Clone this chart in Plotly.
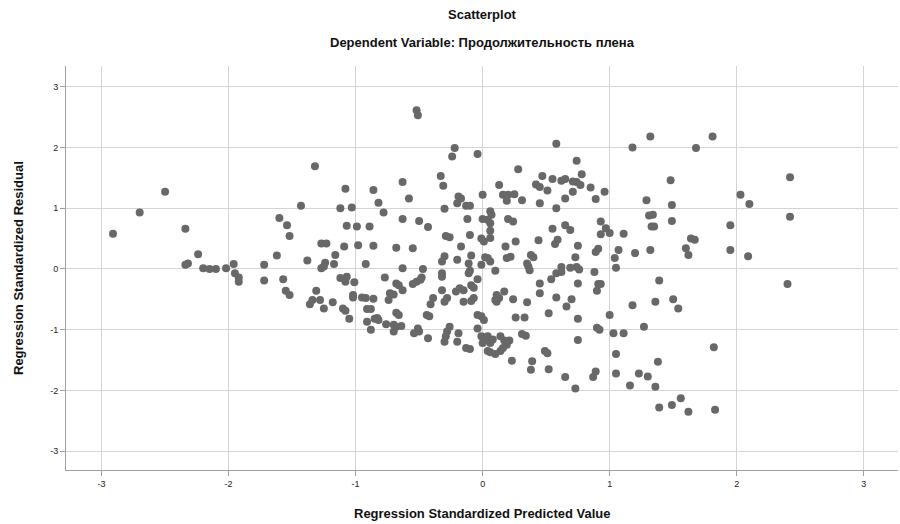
import plotly.graph_objects as go

# Regression standardized predicted values (x) and standardized residuals (y)
pred = [
    -2.91, -2.70, -2.50, -2.34, -2.24, -2.34, -2.32, -2.20, -2.15, -2.10, -2.02, -1.96, -1.95, -1.92, -1.92,
    -1.32, -1.08, -0.86, -1.43, -1.12, -1.03, -1.60, -1.54, -1.52, -1.07, -0.99, -0.89, -1.27, -1.23, -1.09,
    -0.98, -0.86, -1.62, -1.16, -1.72, -1.38, -1.24, -1.25, -1.27, -1.17, -0.92,
    -1.72, -1.57, -1.55, -1.52, -1.31, -1.34, -1.28, -1.36, -1.25, -1.18, -1.12, -1.07, -1.08, -1.01, -1.10,
    -1.08, -1.05, -1.02, -1.02, -0.95, -0.92, -0.86, -0.91, -0.88, -0.91, -0.88, -0.85,
    -0.52, -0.51, -0.22, -0.24, -0.04, -0.33, -0.31, -0.63, -0.58, -0.82, -0.78, -0.19, -0.17, -0.20, -0.13,
    -0.10, 0.00, -0.30, 0.06, -0.63, -0.50, -0.43, -0.12, 0.00, 0.04, 0.06, 0.06, 0.06, -0.29, -0.26, -0.10,
    -0.01, 0.01, -0.68, -0.55, -0.17, -0.30, -0.32, -0.20, -0.09, -0.11, -0.01, 0.02, 0.04, 0.06, -0.63, -0.47,
    -0.48, -0.49, -0.55, -0.52, -0.77, -0.68, -0.66, -0.63, -0.73, -0.70, -0.74, -0.83, -0.82, -0.68, -0.66,
    -0.76, -0.70, -0.68, -0.64, -0.70, -0.32, -0.32, -0.32, -0.39, -0.41, -0.28, -0.30, -0.21, -0.18, -0.15,
    -0.15, -0.09, -0.07, -0.10, -0.11, -0.04, -0.07, -0.09, -0.44, -0.42, -0.51, -0.50, -0.54, -0.43, -0.26,
    -0.28, -0.29, -0.30, -0.19, -0.20, -0.13, -0.10, -0.04, -0.04, -0.01, 0.01, -0.01, 0.02, 0.00, 0.04, 0.06, 0.04,
    0.58, 0.74, 0.28, 0.78, 0.47, 0.55, 0.42, 0.45, 0.51, 0.62, 0.65, 0.71, 0.74, 0.77, 0.85, 0.13, 0.16, 0.20,
    0.25, 0.19, 0.31, 0.71, 0.96, 0.89, 0.65, 0.45, 0.58, 0.07, 0.20, 0.24, 0.55, 0.65, 0.69, 0.93, 0.97, 1.00,
    0.93, 0.44, 0.26, 0.59, 0.57, 0.75, 0.18, 0.91, 0.89, 0.22, 0.19, 0.38, 0.40, 0.73, 0.35, 0.36, 0.62, 0.69,
    0.74, 1.04,
    0.10, 0.37, 0.58, 0.62, 0.76, 0.54, 0.45, 0.45, 0.75, 0.88, 0.91, 0.93, 0.90, 0.11, 0.10, 0.13, 0.11, 0.17,
    0.24, 0.35, 0.58, 0.70, 0.66, 0.52, 0.26, 0.33, 0.75, 1.00, 0.90, 0.92, 0.08, 0.14, 0.17, 0.21, 0.19, 0.16,
    0.14, 0.10, 0.06, 0.31, 0.34, 0.75, 0.49, 0.51, 0.23, 0.39, 0.38, 0.52, 0.65, 0.89, 0.87, 0.73,
    1.32, 1.81, 1.18, 1.68, 1.48, 1.29, 1.49, 1.31, 1.34, 1.33, 1.35, 1.49, 1.11, 1.64, 1.67, 1.60, 1.62, 1.07,
    1.20, 1.32, 1.05,
    2.42, 2.42, 2.03, 2.10, 1.95, 1.95, 2.09,
    1.39, 1.18, 1.36, 1.50, 1.54, 1.27, 1.03, 1.11, 1.82, 1.05, 1.38, 1.05, 1.23, 1.30, 1.16, 1.36, 1.56, 1.39,
    1.49, 1.62, 1.83,
    2.40,
]
resid = [
    0.58, 0.93, 1.27, 0.66, 0.24, 0.07, 0.09, 0.01, 0.00, 0.00, 0.01, 0.08, -0.07, -0.14, -0.21,
    1.69, 1.32, 1.30, 1.04, 1.00, 1.01, 0.84, 0.72, 0.54, 0.71, 0.70, 0.70, 0.42, 0.42, 0.37,
    0.39, 0.38, 0.22, 0.23, 0.07, 0.14, 0.10, 0.04, 0.01, 0.08, 0.08,
    -0.19, -0.17, -0.36, -0.43, -0.36, -0.51, -0.51, -0.58, -0.65, -0.55, -0.15, -0.13, -0.21, -0.22, -0.65,
    -0.69, -0.82, -0.43, -0.47, -0.47, -0.48, -0.49, -0.66, -0.66, -0.87, -1.00, -0.82,
    2.61, 2.53, 1.99, 1.85, 1.89, 1.53, 1.37, 1.43, 1.16, 1.09, 0.93, 1.19, 1.16, 1.08, 1.04,
    1.04, 1.22, 0.99, 0.95, 0.82, 0.79, 0.69, 0.82, 0.82, 0.81, 0.75, 0.63, 0.51, 0.54, 0.52, 0.56,
    0.50, 0.45, 0.35, 0.34, 0.37, 0.21, 0.12, 0.15, 0.22, 0.09, 0.07, 0.19, 0.18, 0.12, 0.01, 0.00,
    -0.14, -0.18, -0.25, -0.21, -0.14, -0.24, -0.27, -0.35, -0.40, -0.42, -0.51, -0.81, -0.84, -0.72, -0.76,
    -0.91, -0.92, -0.95, -0.94, -1.03, -0.07, -0.13, -0.35, -0.48, -0.58, -0.48, -0.54, -0.37, -0.32, -0.35,
    -0.54, -0.27, -0.31, -0.03, -0.07, -0.17, -0.48, -0.53, -0.76, -0.78, -0.98, -1.03, -1.06, -1.14, -0.95,
    -1.03, -1.11, -1.20, -1.06, -1.20, -1.30, -1.32, -0.98, -0.76, -0.78, -0.84, -1.11, -1.17, -1.22, -1.11, -1.22, -1.35,
    2.06, 1.78, 1.64, 1.56, 1.53, 1.48, 1.39, 1.35, 1.29, 1.45, 1.48, 1.44, 1.43, 1.38, 1.34, 1.38, 1.22, 1.22,
    1.23, 1.12, 1.13, 1.27, 1.27, 1.15, 1.16, 1.08, 1.00, 0.89, 0.82, 0.78, 0.66, 0.72, 0.64, 0.78, 0.67, 0.59,
    0.57, 0.47, 0.45, 0.48, 0.41, 0.38, 0.37, 0.33, 0.28, 0.20, 0.18, 0.23, 0.19, 0.19, 0.09, 0.04, 0.03, 0.02,
    0.03, 0.18,
    -0.03, -0.02, -0.07, -0.05, -0.01, -0.17, -0.24, -0.40, -0.24, -0.05, -0.25, -0.25, -0.36, -0.43, -0.51, -0.48, -0.54, -0.37,
    -0.50, -0.55, -0.47, -0.50, -0.62, -0.73, -0.80, -0.80, -0.82, -0.76, -0.97, -1.00, -1.16, -1.11, -1.18, -1.18, -1.25, -1.30,
    -1.35, -1.40, -1.37, -1.07, -1.10, -1.17, -1.35, -1.39, -1.51, -1.52, -1.66, -1.65, -1.78, -1.69, -1.78, -1.97,
    2.18, 2.18, 2.00, 1.99, 1.46, 1.13, 1.05, 0.88, 0.89, 0.70, 0.70, 0.79, 0.58, 0.50, 0.48, 0.34, 0.23, 0.31,
    0.26, 0.31, 0.02,
    1.51, 0.86, 1.22, 1.07, 0.72, 0.31, 0.21,
    -0.19, -0.60, -0.54, -0.50, -0.65, -0.95, -1.06, -1.06, -1.29, -1.40, -1.53, -1.72, -1.72, -1.77, -1.92, -1.94, -2.13, -2.28,
    -2.24, -2.35, -2.32,
    -0.25,
]

tick_vals = [-3, -2, -1, 0, 1, 2, 3]
tick_text = ["-3", "-2", "-1", "0", "1", "2", "3"]

title_main = "Scatterplot"
title_sub = "Dependent Variable: Продолжительность плена"
x_title = "Regression Standardized Predicted Value"
y_title = "Regression Standardized Residual"

FONT = "Arial, Liberation Sans, sans-serif"
TXT = "#111111"

fig = go.Figure()
fig.add_trace(go.Scatter(
    x=pred, y=resid, mode="markers",
    marker=dict(size=8, color="#686868", line=dict(width=0)),
    hoverinfo="skip", showlegend=False,
))

axis_common = dict(
    tickvals=tick_vals, ticktext=tick_text,
    showgrid=True, gridcolor="#d4d4d4", gridwidth=1.2,
    zeroline=False, showline=True, linecolor="#a0a0a0", linewidth=1,
    ticks="outside", ticklen=5, tickcolor="#a0a0a0",
    tickfont=dict(family=FONT, size=9, color="#222222"),
    automargin=False,
)

def bold(s):
    return "<b>" + s + "</b>"

fig.update_layout(
    width=900, height=524,
    margin=dict(l=66, r=2, t=66, b=54),
    paper_bgcolor="white", plot_bgcolor="white",
    font=dict(family=FONT, color=TXT),
    xaxis=dict(range=[-3.28, 3.27], **axis_common),
    yaxis=dict(range=[-3.31, 3.34], **axis_common),
    annotations=[
        dict(text=bold(title_main), x=0.5, xref="paper", y=1, yref="paper",
             yshift=52, yanchor="middle", showarrow=False,
             font=dict(family=FONT, size=13, color=TXT)),
        dict(text=bold(title_sub), x=0.5, xref="paper", y=1, yref="paper",
             yshift=24, yanchor="middle", showarrow=False,
             font=dict(family=FONT, size=13, color=TXT)),
        dict(text=bold(x_title), x=0.5, xref="paper", y=0, yref="paper",
             yshift=-43, yanchor="middle", showarrow=False,
             font=dict(family=FONT, size=13, color=TXT)),
        dict(text=bold(y_title), x=0, xref="paper", y=0.5, yref="paper",
             xshift=-48, xanchor="center", yanchor="middle", textangle=-90,
             showarrow=False, font=dict(family=FONT, size=13, color=TXT)),
    ],
)

fig.write_html(
    "out.html",
    config={"displayModeBar": False},
    post_script="document.body.style.margin='0';document.body.style.overflow='hidden';",
)
